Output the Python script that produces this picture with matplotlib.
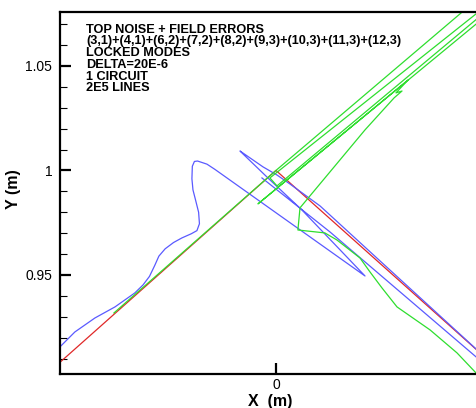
import matplotlib
matplotlib.use('Agg')
import matplotlib.pyplot as plt
from matplotlib.ticker import MultipleLocator, FixedLocator, FixedFormatter

# unperturbed separatrix (red)
red_x = [-0.105, 0.0, 0.098]
red_y = [0.9067, 1.0, 0.9124]

# field line with noise (green)
green_x = [-0.0775, 0.0, 0.1167, 0.1167, -0.0029, 0.0005, 0.1167, 0.1167,
           -0.0086, 0.0632, 0.0574, 0.0603, 0.0565, 0.0426, 0.0115, 0.0105,
           0.0234, 0.0292, 0.0402, 0.0450, 0.0507, 0.0579, 0.0737, 0.0866,
           0.0957, 0.0986]
green_y = [0.9318, 1.0, 1.0993, 1.0916, 0.9964, 0.9926, 1.0897, 1.0873,
           0.9840, 1.0433, 1.0371, 1.0380, 1.0347, 1.0194, 0.9821, 0.9715,
           0.9701, 0.9667, 0.9581, 0.9514, 0.9438, 0.9347, 0.9237, 0.9127,
           0.9031, 0.9002]

# field line with locked modes (blue)
blue_x = [-0.1057, -0.0962, -0.0866, -0.0770, -0.0675, -0.0636, -0.0605,
          -0.0580, -0.0560, -0.0530, -0.0490, -0.0450, -0.0405, -0.0378,
          -0.0366, -0.0370, -0.0385, -0.0397, -0.0402, -0.0400, -0.0390,
          -0.0375, -0.0330, -0.0292, 0.0426, 0.0124, -0.0029, -0.0163,
          -0.0172, -0.0062, 0.0005, 0.0067, 0.0211, 0.0957, 0.1072,
          0.1072, 0.0957, 0.0258, -0.0067]
blue_y = [0.9132, 0.9227, 0.9294, 0.9347, 0.9414, 0.9452, 0.9493,
          0.9545, 0.9590, 0.9625, 0.9655, 0.9677, 0.9697, 0.9712,
          0.9745, 0.9800, 0.9860, 0.9907, 0.9960, 1.0020, 1.0043,
          1.0045, 1.0030, 1.0005, 0.9495, 0.9811, 0.9955, 1.0084,
          1.0093, 1.0017, 0.9978, 0.9935, 0.9830, 0.9146, 0.9045,
          0.9007, 0.9108, 0.9706, 0.9964]

y_ticks = [0.95, 1.0, 1.05]
y_tick_labels = ['0.95', '1', '1.05']
x_ticks = [0.0]
x_tick_labels = ['0']

info_lines = [
    'TOP NOISE + FIELD ERRORS',
    '(3,1)+(4,1)+(6,2)+(7,2)+(8,2)+(9,3)+(10,3)+(11,3)+(12,3)',
    'LOCKED MODES',
    'DELTA=20E-6',
    '1 CIRCUIT',
    '2E5 LINES',
]

plt.rcParams['font.family'] = ['Liberation Sans', 'DejaVu Sans']

fig = plt.figure(figsize=(4.76, 4.08), dpi=100)
ax = fig.add_axes([60 / 476, 34 / 408, 420 / 476, 362 / 408])

ax.plot(red_x, red_y, color='#e02828', lw=0.9)
ax.plot(blue_x, blue_y, color='#5a5aff', lw=0.9)
ax.plot(green_x, green_y, color='#2ede2e', lw=0.9)

ax.set_xlim(-0.1033, 0.0976)
ax.set_ylim(0.9026, 1.0758)

ax.yaxis.set_major_locator(FixedLocator(y_ticks))
ax.yaxis.set_major_formatter(FixedFormatter(y_tick_labels))
ax.yaxis.set_minor_locator(MultipleLocator(0.01))
ax.xaxis.set_major_locator(FixedLocator(x_ticks))
ax.xaxis.set_major_formatter(FixedFormatter(x_tick_labels))

ax.tick_params(axis='both', which='major', direction='in', length=8, width=1.6,
               labelsize=10, color='black')
ax.tick_params(axis='y', which='major', pad=5.5)
ax.tick_params(axis='x', which='major', pad=3)
ax.tick_params(axis='y', which='minor', direction='in', length=5, width=0.8)

for s in ['left', 'bottom', 'top']:
    ax.spines[s].set_linewidth(1.6)
ax.spines['right'].set_visible(False)

ax.set_xlabel('X  (m)', fontsize=11.5, fontweight='bold')
ax.set_ylabel('Y (m)', fontsize=11.5, fontweight='bold')
ax.xaxis.set_label_coords(0.5, -0.055)
ax.yaxis.set_label_coords(-0.093, 0.51)

ax.text(0.0625, 0.968, '\n'.join(info_lines), transform=ax.transAxes,
        fontsize=9.2, fontweight='bold', va='top', ha='left', linespacing=0.97)

fig.savefig('out.png', dpi=100)
